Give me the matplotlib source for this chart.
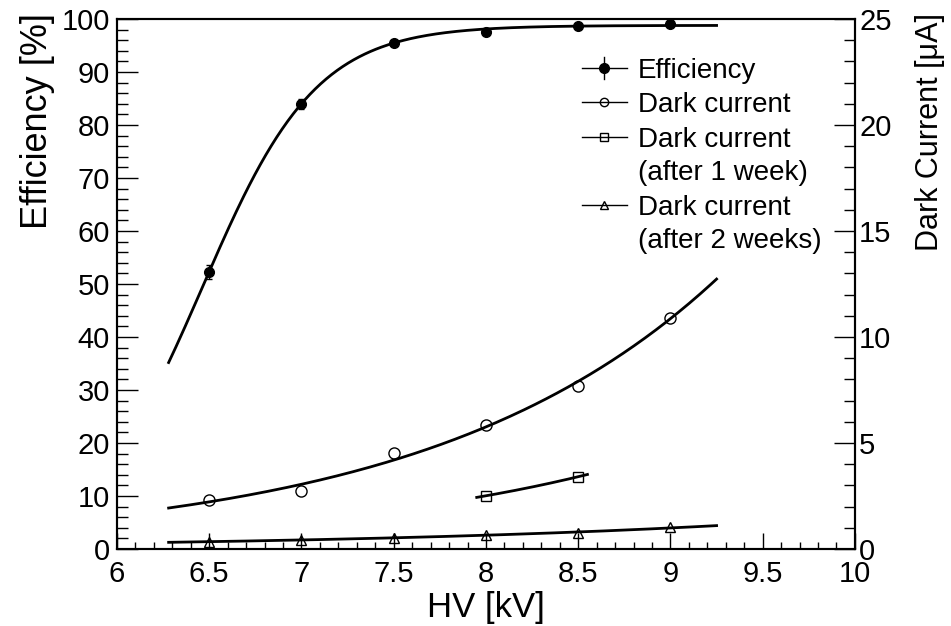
import numpy as np
import matplotlib
matplotlib.use("Agg")
import matplotlib.pyplot as plt
from matplotlib.ticker import MultipleLocator

plt.rcParams['font.family'] = ['Liberation Sans', 'DejaVu Sans']

# data
hv = [6.5, 7.0, 7.5, 8.0, 8.5, 9.0]
efficiency = [52.3, 84.0, 95.5, 97.5, 98.7, 99.0]
efficiency_err = [1.3, 0.9, 0.5, 0.4, 0.3, 0.3]
dark = [2.31, 2.74, 4.54, 5.85, 7.69, 10.9]
hv_week1 = [8.0, 8.5]
dark_week1 = [2.51, 3.41]
dark_week2 = [0.35, 0.42, 0.53, 0.66, 0.77, 1.02]

# sigmoid fit parameters (plateau, midpoint, width)
eff_fit = (98.8, 6.463, 0.309)

fig = plt.figure(figsize=(9.51, 6.26), dpi=100)
ax = fig.add_axes([0.1230, 0.1230, 0.7760, 0.8466])
ax2 = ax.twinx()

# efficiency
xf = np.linspace(6.28, 9.25, 300)
A, x0, w = eff_fit
ax.plot(xf, A / (1 + np.exp(-(xf - x0) / w)), color='black', lw=2, zorder=3)
ax.errorbar(hv, efficiency, yerr=efficiency_err, fmt='o', color='black',
            ms=7, elinewidth=1, capsize=2, zorder=4)


def expfit(x, y, lo, hi):
    b, a = np.polyfit(x, np.log(y), 1)
    xs = np.linspace(lo, hi, 200)
    return xs, np.exp(a + b * xs)


xs, ys = expfit(hv, dark, 6.28, 9.25)
ax2.plot(xs, ys, color='black', lw=2)
ax2.plot(hv, dark, 'o', mfc='none', mec='black', ms=8, mew=1)

xs, ys = expfit(hv_week1, dark_week1, 7.95, 8.55)
ax2.plot(xs, ys, color='black', lw=2)
ax2.plot(hv_week1, dark_week1, 's', mfc='none', mec='black', ms=7, mew=1)

xs, ys = expfit(hv, dark_week2, 6.28, 9.25)
ax2.plot(xs, ys, color='black', lw=2)
ax2.plot(hv, dark_week2, '^', mfc='none', mec='black', ms=7, mew=1)

# axes styling
ax.set_xlim(6, 10)
ax.set_ylim(0, 100)
ax2.set_ylim(0, 25)
for sp in ax.spines.values():
    sp.set_linewidth(1.5)
for sp in ax2.spines.values():
    sp.set_linewidth(1.5)

ax.xaxis.set_major_locator(MultipleLocator(0.5))
ax.xaxis.set_minor_locator(MultipleLocator(0.1))
ax.yaxis.set_major_locator(MultipleLocator(10))
ax.yaxis.set_minor_locator(MultipleLocator(2))
ax2.yaxis.set_major_locator(MultipleLocator(5))
ax2.yaxis.set_minor_locator(MultipleLocator(1))
ax.xaxis.set_major_formatter(plt.FuncFormatter(lambda v, p: f"{v:g}"))

ax.tick_params(axis='x', which='major', direction='in', length=11.5, width=1, labelsize=21, pad=8, top=False)
ax.tick_params(axis='x', which='minor', direction='in', length=5, width=1, top=False)
ax.tick_params(axis='y', which='major', direction='in', length=15, width=1, labelsize=21, pad=5, right=False)
ax.tick_params(axis='y', which='minor', direction='in', length=8, width=1, right=False)
ax2.tick_params(axis='y', which='major', direction='in', length=15, width=1, labelsize=21, pad=3, left=False)
ax2.tick_params(axis='y', which='minor', direction='in', length=8, width=1, left=False)

ax.set_xlabel('HV [kV]', fontsize=25, va='baseline')
ax.xaxis.set_label_coords(0.5, -0.128)
ax.set_ylabel('Efficiency [%]', fontsize=26, ha='right', va='center')
ax.yaxis.set_label_coords(-0.108, 1.011)
ax2.set_ylabel('Dark Current [\u03bcA]', fontsize=22, ha='right', va='center', rotation=90)
ax2.yaxis.set_label_coords(1.102, 1.011)

# legend drawn by hand to mimic the ROOT layout
def px(x, y):
    return (x - 117) / 738, (549 - y) / 530

entries = [
    (68, 'o', 'black', ['Efficiency'], True),
    (102, 'o', 'none', ['Dark current'], False),
    (137, 's', 'none', ['Dark current', '(after 1 week)'], False),
    (205, '^', 'none', ['Dark current', '(after 2 weeks)'], False),
]
for row, mk, fc, lines, err in entries:
    (xa, ya), (xb, _) = px(582, row), px(627, row)
    xm, _ = px(604, row)
    ax2.plot([xa, xb], [ya, ya], color='black', lw=1, transform=ax.transAxes, clip_on=False)
    ax2.plot([xm], [ya], marker=mk, mfc=fc, mec='black', ms=6 if fc == 'none' else 7,
             mew=1, color='black', transform=ax.transAxes, clip_on=False)
    if err:
        _, y1 = px(604, row - 11)
        _, y2 = px(604, row + 11)
        ax2.plot([xm, xm], [y1, y2], color='black', lw=1, transform=ax.transAxes)
    for i, line in enumerate(lines):
        xt, yt = px(638, row + 33 * i)
        ax2.text(xt, yt, line, fontsize=20, va='center_baseline', ha='left',
                 transform=ax.transAxes)

fig.savefig('out.png', dpi=100)
